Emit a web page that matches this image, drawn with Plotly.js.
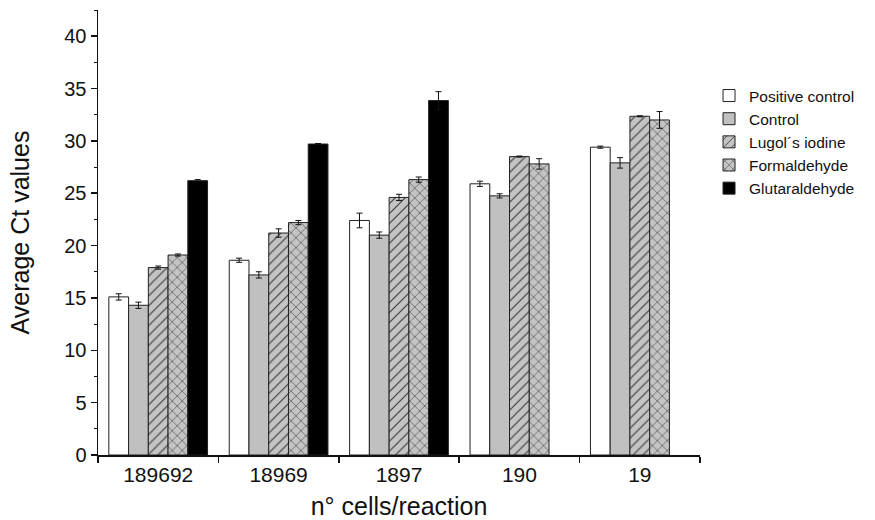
<!DOCTYPE html>
<html>
<head>
<meta charset="utf-8">
<script src="https://cdn.plot.ly/plotly-3.0.1.min.js"></script>
<style>html,body{margin:0;padding:0;background:#fff;}#chart{width:875px;height:520px;}</style>
</head>
<body>
<div id="chart"></div>
<script>
const categories = ["189692", "18969", "1897", "190", "19"];
const seriesNames = ["Positive control", "Control", "Lugol´s iodine", "Formaldehyde", "Glutaraldehyde"];
const positiveControl = [15.1, 18.6, 22.4, 25.9, 29.4];
const positiveControlErr = [0.3, 0.2, 0.7, 0.25, 0.1];
const control = [14.3, 17.2, 21.0, 24.75, 27.9];
const controlErr = [0.3, 0.3, 0.3, 0.2, 0.5];
const lugol = [17.9, 21.2, 24.6, 28.5, 32.35];
const lugolErr = [0.15, 0.4, 0.3, 0.05, 0.05];
const formaldehyde = [19.1, 22.2, 26.3, 27.8, 32.0];
const formaldehydeErr = [0.1, 0.2, 0.25, 0.5, 0.8];
const glutaraldehyde = [26.2, 29.7, 33.85, null, null];
const glutaraldehydeErr = [0.1, 0.05, 0.85, null, null];

const values = [positiveControl, control, lugol, formaldehyde, glutaraldehyde];
const errors = [positiveControlErr, controlErr, lugolErr, formaldehydeErr, glutaraldehydeErr];
const fills = ["#ffffff", "#c0c0c0", "#c4c4c4", "#c4c4c4", "#000000"];
const patterns = ["", "", "/", "x", ""];

const traces = seriesNames.map((name, i) => ({
  type: "bar",
  name: name,
  x: categories,
  y: values[i],
  marker: {
    color: fills[i],
    line: {color: "#222", width: 1},
    pattern: {shape: patterns[i], fgcolor: "#333", bgcolor: fills[i], size: 7, solidity: 0.15}
  },
  error_y: {type: "data", array: errors[i], visible: true, color: "#111", thickness: 1, width: 3}
}));

const layout = {
  width: 875, height: 520,
  margin: {l: 98, r: 175, t: 10, b: 65},
  paper_bgcolor: "#fff", plot_bgcolor: "#fff",
  font: {family: "Liberation Sans, Arial, sans-serif", color: "#111"},
  barmode: "group",
  bargap: 0.18, bargroupgap: 0,
  showlegend: true,
  legend: {x: 1.015, y: 0.845, xanchor: "left", yanchor: "top", font: {size: 15.5, color: "#111"},
           bgcolor: "rgba(0,0,0,0)", tracegroupgap: 0, itemwidth: 30},
  xaxis: {
    type: "category", range: [-0.5, 4.5],
    showline: true, linecolor: "#111", linewidth: 1.5,
    ticks: "outside", tickson: "boundaries", ticklen: 6, tickcolor: "#111", tickwidth: 1.5,
    tickfont: {size: 21},
    showgrid: false, zeroline: false,
    title: {text: "n° cells/reaction", font: {size: 25}, standoff: 14}
  },
  yaxis: {
    range: [0, 42.5],
    showline: true, linecolor: "#111", linewidth: 1.5,
    ticks: "outside", ticklen: 6, tickcolor: "#111", tickwidth: 1.5,
    tickvals: [0, 5, 10, 15, 20, 25, 30, 35, 40],
    tickfont: {size: 20},
    minor: {dtick: 2.5, ticks: "outside", ticklen: 3, tickcolor: "#111", tickwidth: 1, showgrid: false},
    showgrid: false, zeroline: false,
    title: {text: "Average Ct values", font: {size: 25}, standoff: 27}
  }
};

Plotly.newPlot("chart", traces, layout, {displayModeBar: false, staticPlot: true});
</script>
</body>
</html>
